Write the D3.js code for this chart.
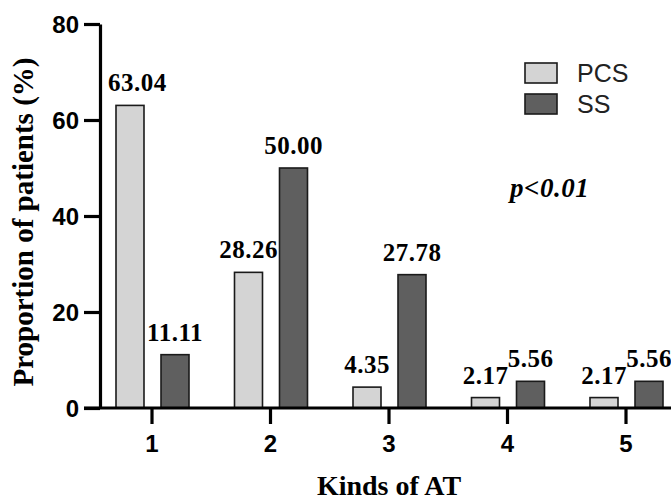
<!DOCTYPE html>
<html>
  <head>
    <meta charset="utf-8">
    <title>Kinds of AT</title>
    <script src="https://cdn.jsdelivr.net/npm/d3@7"></script>
    <style>
      body { margin: 0; background: #fff; }
    </style>
  </head>
  <body>

    <script>
      // data
      var categories = ["1", "2", "3", "4", "5"];
      var series = ["PCS", "SS"];
      var pcs = [63.04, 28.26, 4.35, 2.17, 2.17];
      var ss = [11.11, 50.00, 27.78, 5.56, 5.56];
      var yTicks = [0, 20, 40, 60, 80];
      var colors = { PCS: "#d4d4d4", SS: "#5f5f5f" };

      var W = 671, H = 500;
      var svg = d3.select("body").append("svg")
        .attr("width", W)
        .attr("height", H);

      var y = d3.scaleLinear().domain([0, 80]).range([408, 24]);
      var x = d3.scaleBand().domain(categories).range([92.75, 685.25]).padding(0);
      var xs = d3.scaleBand().domain(series).range([-36, 37]).paddingInner(0.378);
      var axisX = 100;

      var rows = categories.map(function (c, i) {
        return { cat: c, vals: [{ key: "PCS", v: pcs[i] }, { key: "SS", v: ss[i] }] };
      });

      // bars
      var groups = svg.selectAll("g.cat").data(rows).enter().append("g")
        .attr("class", "cat")
        .attr("transform", function (d) { return "translate(" + (x(d.cat) + x.bandwidth() / 2) + ",0)"; });

      groups.selectAll("rect").data(function (d) { return d.vals; }).enter().append("rect")
        .attr("x", function (d) { return xs(d.key); })
        .attr("width", xs.bandwidth())
        .attr("y", function (d) { return y(d.v); })
        .attr("height", function (d) { return y(0) - y(d.v); })
        .attr("fill", function (d) { return colors[d.key]; })
        .attr("stroke", "#1a1a1a")
        .attr("stroke-width", 1.6);

      groups.each(function (g) {
        var cx = x(g.cat) + x.bandwidth() / 2;
        d3.select(this).selectAll("text").data(g.vals).enter().append("text")
          .attr("y", function (d) { return y(d.v) - 14; })
          .attr("text-anchor", "middle")
          .style("font-family", "'Liberation Serif', 'Times New Roman', serif")
          .style("font-weight", "bold")
          .style("font-size", "25px")
          .style("letter-spacing", "0.5px")
          .text(function (d) { return d.v.toFixed(2); })
          .attr("x", function (d) {
            var mid = xs(d.key) + xs.bandwidth() / 2;
            var half = this.getComputedTextLength() / 2;
            // keep labels clear of the y axis
            var minMid = axisX + 8 + half - cx;
            return Math.max(mid, minMid);
          });
      });

      // y axis
      var yAxis = svg.append("g")
        .attr("transform", "translate(" + axisX + ",0)")
        .call(d3.axisLeft(y).tickValues(yTicks).tickSize(16).tickSizeOuter(0).tickPadding(5));

      // x axis
      var xAxis = svg.append("g")
        .attr("transform", "translate(0," + y(0) + ")")
        .call(d3.axisBottom(x).tickSize(16).tickSizeOuter(0).tickPadding(11));
      xAxis.select(".domain").attr("d", "M84,0H" + W);

      svg.selectAll(".domain, .tick line")
        .attr("stroke", "#000")
        .attr("stroke-width", 3.2);
      svg.selectAll(".tick text")
        .attr("fill", "#000")
        .style("font-family", "'Liberation Sans', Arial, sans-serif")
        .style("font-weight", "bold")
        .style("font-size", "24px");
      yAxis.selectAll(".tick text").attr("dy", "0.36em");

      // axis titles
      svg.append("text")
        .attr("transform", "translate(33,222) rotate(-90)")
        .attr("text-anchor", "middle")
        .style("font-family", "'Liberation Serif', 'Times New Roman', serif")
        .style("font-weight", "bold")
        .style("font-size", "29px")
        .text("Proportion of patients (%)");

      svg.append("text")
        .attr("x", 389)
        .attr("y", 495)
        .attr("text-anchor", "middle")
        .style("font-family", "'Liberation Serif', 'Times New Roman', serif")
        .style("font-weight", "bold")
        .style("font-size", "28px")
        .text("Kinds of AT");

      // legend
      var legend = svg.append("g").attr("transform", "translate(525,63)");
      var li = legend.selectAll("g").data(series).enter().append("g")
        .attr("transform", function (d, i) { return "translate(0," + (i * 31) + ")"; });
      li.append("rect")
        .attr("width", 32)
        .attr("height", 20)
        .attr("fill", function (d) { return colors[d]; })
        .attr("stroke", "#1a1a1a")
        .attr("stroke-width", 1.6);
      li.append("text")
        .attr("x", 52)
        .attr("y", 19)
        .attr("fill", "#222")
        .style("font-family", "'Liberation Sans', Arial, sans-serif")
        .style("font-size", "25px")
        .text(function (d) { return d; });

      svg.append("text")
        .attr("x", 510)
        .attr("y", 197)
        .style("font-family", "'Liberation Serif', 'Times New Roman', serif")
        .style("font-weight", "bold")
        .style("font-style", "italic")
        .style("font-size", "27px")
        .style("letter-spacing", "0.5px")
        .text("p<0.01");
    </script>

  </body>
</html>
